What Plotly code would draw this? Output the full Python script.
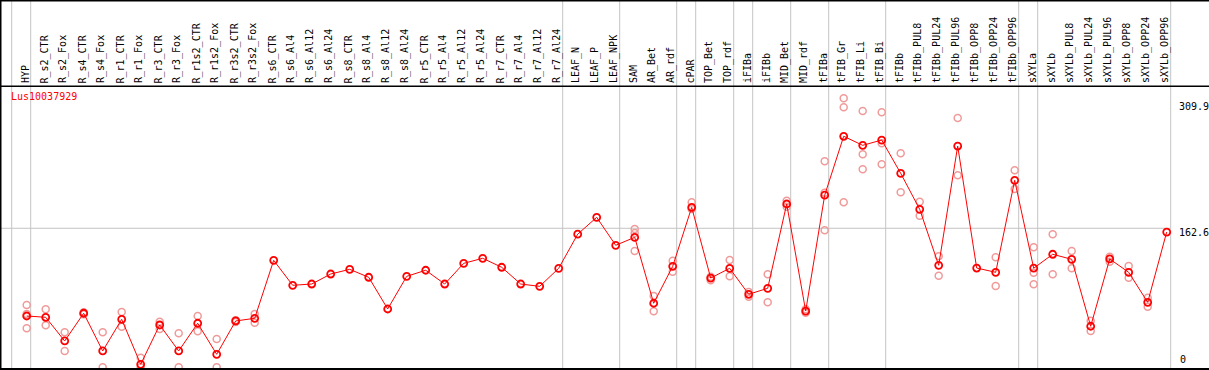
import plotly.graph_objects as go

categories = [
    "HYP", "R_s2_CTR", "R_s2_Fox", "R_s4_CTR", "R_s4_Fox", "R_r1_CTR", "R_r1_Fox",
    "R_r3_CTR", "R_r3_Fox", "R_r1s2_CTR", "R_r1s2_Fox", "R_r3s2_CTR", "R_r3s2_Fox",
    "R_s6_CTR", "R_s6_Al4", "R_s6_Al12", "R_s6_Al24", "R_s8_CTR", "R_s8_Al4",
    "R_s8_Al12", "R_s8_Al24", "R_r5_CTR", "R_r5_Al4", "R_r5_Al12", "R_r5_Al24",
    "R_r7_CTR", "R_r7_Al4", "R_r7_Al12", "R_r7_Al24", "LEAF_N", "LEAF_P", "LEAF_NPK",
    "SAM", "AR_Bet", "AR_rdf", "cPAR", "TOP_Bet", "TOP_rdf", "iFIBa", "iFIBb",
    "MID_Bet", "MID_rdf", "tFIBa", "tFIB_Gr", "tFIB_Li", "tFIB_Bi", "tFIBb",
    "tFIBb_PUL8", "tFIBb_PUL24", "tFIBb_PUL96", "tFIBb_OPP8", "tFIBb_OPP24",
    "tFIBb_OPP96", "sXYLa", "sXYLb", "sXYLb_PUL8", "sXYLb_PUL24", "sXYLb_PUL96",
    "sXYLb_OPP8", "sXYLb_OPP24", "sXYLb_OPP96",
]

mean_values = [
    60.0, 58.5, 30.8, 63.2, 19.1, 56.1, 3.5, 49.5, 19.1, 51.5, 15.2, 54.2, 57.3,
    125.1, 95.9, 97.4, 109.1, 114.6, 105.3, 68.2, 106.4, 113.5, 97.4, 121.6, 127.5,
    117.0, 97.4, 94.7, 115.8, 155.7, 175.4, 142.7,
    152.0, 74.9, 118.1, 187.1, 104.4, 115.8, 85.4, 92.4, 191.0, 65.8,
    201.3, 270.2, 259.6, 265.8, 226.9, 184.8, 119.3, 258.8, 116.1, 111.1, 218.7,
    115.9, 132.2, 126.3, 48.0, 126.7, 111.1, 76.0, 158.2,
]

rep1 = [
    72.9, 67.8, 40.9, 64.3, 40.9, 64.7, 11.2, 53.3, 39.8, 60.0, 33.1, 55.0, 62.3,
    None, None, None, None, None, None, None, None, None, None, None, None,
    None, None, None, None, None, None, None,
    161.8, 83.4, 124.7, 193.0, 101.8, 125.5, 88.1, 108.8, 194.9, 67.8,
    240.9, 314.6, 299.8, 298.2, 250.3, 193.7, 129.8, 291.6, None, 128.7, 230.4,
    140.4, 155.6, 136.0, 54.5, 129.4, 118.5, 81.4, None,
]

rep2 = [
    62.3, 49.1, 19.1, 62.0, 0.0, 47.5, 0.0, 44.8, 0.0, 42.1, 0.0, 53.0, 52.2,
    None, None, None, None, None, None, None, None, None, None, None, None,
    None, None, None, None, None, None, None,
    157.1, 65.5, 111.8, 185.1, 106.0, 106.4, 82.6, 76.0, 187.8, 63.9,
    204.2, 304.1, 249.1, 262.0, 204.7, 177.3, 107.1, 224.6, None, 95.1, 208.5,
    110.6, 108.8, 115.8, 42.5, 123.5, 104.8, 70.9, None,
]

rep3 = [
    45.6, None, None, None, None, None, None, None, None, None, None, None, None,
    None, None, None, None, None, None, None, None, None, None, None, None,
    None, None, None, None, None, None, None,
    136.0, None, None, None, None, None, None, None, None, None,
    160.2, 193.0, 231.6, 237.4, None, None, None, None, None, None, None,
    97.1, None, None, None, None, None, None, None,
]

group_ends = [-1, 0, 28, 31, 34, 35, 37, 38, 40, 42, 45, 52, 53, 60]
y_ticks = [0, 162.6, 309.9]
y_tick_labels = ["0", "162.6", "309.9"]
gene_id = "Lus10037929"

W, H = 1209, 370
PX_PER_CAT = 19.0
X0_PX = 26.7
x_lo = -X0_PX / PX_PER_CAT
x_hi = x_lo + W / PX_PER_CAT

HEADER_PX = 86.3
PX_PER_UNIT = 0.855
ZERO_PX = 367.3
y_lo = (ZERO_PX - H) / PX_PER_UNIT
y_hi = (ZERO_PX - HEADER_PX) / PX_PER_UNIT
header_frac = 1 - HEADER_PX / H

FONT = "DejaVu Sans Mono"
xs = list(range(len(categories)))

fig = go.Figure()

rep_x, rep_y = [], []
for reps in (rep1, rep2, rep3):
    for i, v in enumerate(reps):
        if v is not None:
            rep_x.append(i)
            rep_y.append(v)

fig.add_trace(go.Scatter(
    x=rep_x, y=rep_y, mode="markers",
    marker=dict(symbol="circle-open", size=7, color="#f09a9a", line=dict(width=1.5)),
    hoverinfo="skip", showlegend=False, cliponaxis=True,
))

fig.add_trace(go.Scatter(
    x=xs, y=mean_values, mode="lines+markers",
    line=dict(color="#ff0000", width=1),
    marker=dict(symbol="circle-open", size=7, color="#ff0000", line=dict(width=1.8)),
    text=categories, showlegend=False,
))

shapes = []
for g in group_ends:
    xv = g + 4.0 / PX_PER_CAT
    shapes.append(dict(type="line", xref="x", yref="paper", x0=xv, x1=xv, y0=0, y1=1,
                       line=dict(color="#c4c4c4", width=1), layer="below"))
shapes.append(dict(type="line", xref="x", yref="y", x0=x_lo, x1=60 + 4.0 / PX_PER_CAT,
                   y0=y_ticks[1], y1=y_ticks[1], line=dict(color="#c4c4c4", width=1), layer="below"))
shapes.append(dict(type="line", xref="paper", yref="paper", x0=0, x1=1,
                   y0=header_frac, y1=header_frac, line=dict(color="black", width=1.5)))
shapes.append(dict(type="line", xref="paper", yref="paper", x0=0, x1=1, y0=1, y1=1,
                   line=dict(color="black", width=3)))
shapes.append(dict(type="line", xref="paper", yref="paper", x0=0, x1=1, y0=0, y1=0,
                   line=dict(color="black", width=4)))
shapes.append(dict(type="line", xref="paper", yref="paper", x0=0, x1=0, y0=0, y1=1,
                   line=dict(color="black", width=3)))

annotations = []
for i, c in enumerate(categories):
    annotations.append(dict(
        x=i, y=header_frac, xref="x", yref="paper", text=c, showarrow=False,
        textangle=-90, xanchor="center", yanchor="bottom", yshift=1, xshift=-1,
        font=dict(family=FONT, size=10, color="black"),
    ))

tick_x = (1177 / W)
for v, t in zip(y_ticks, y_tick_labels):
    if v == 0:
        annotations.append(dict(x=tick_x, y=v, xref="paper", yref="y", text=t, showarrow=False,
                                xanchor="left", yanchor="bottom", yshift=0, xshift=1,
                                font=dict(family=FONT, size=10, color="black")))
    else:
        annotations.append(dict(x=tick_x, y=v, xref="paper", yref="y", text=t, showarrow=False,
                                xanchor="left", yanchor="middle", yshift=-4,
                                font=dict(family=FONT, size=10, color="black")))

annotations.append(dict(x=9 / W, y=1 - 96.7 / H, xref="paper", yref="paper", text=gene_id,
                        showarrow=False, xanchor="left", yanchor="middle",
                        font=dict(family=FONT, size=10, color="#ff0000")))

fig.update_layout(
    width=W, height=H,
    margin=dict(l=0, r=0, t=0, b=0, pad=0),
    paper_bgcolor="white", plot_bgcolor="white",
    xaxis=dict(range=[x_lo, x_hi], visible=False, showgrid=False, zeroline=False, fixedrange=True),
    yaxis=dict(range=[y_lo, y_hi], domain=[0, header_frac], visible=False, showgrid=False,
               zeroline=False, fixedrange=True),
    shapes=shapes, annotations=annotations,
    showlegend=False,
)

fig.write_html(
    "out.html",
    config={"displayModeBar": False},
    post_script="document.body.style.margin='0px';document.body.style.overflow='hidden';",
)
